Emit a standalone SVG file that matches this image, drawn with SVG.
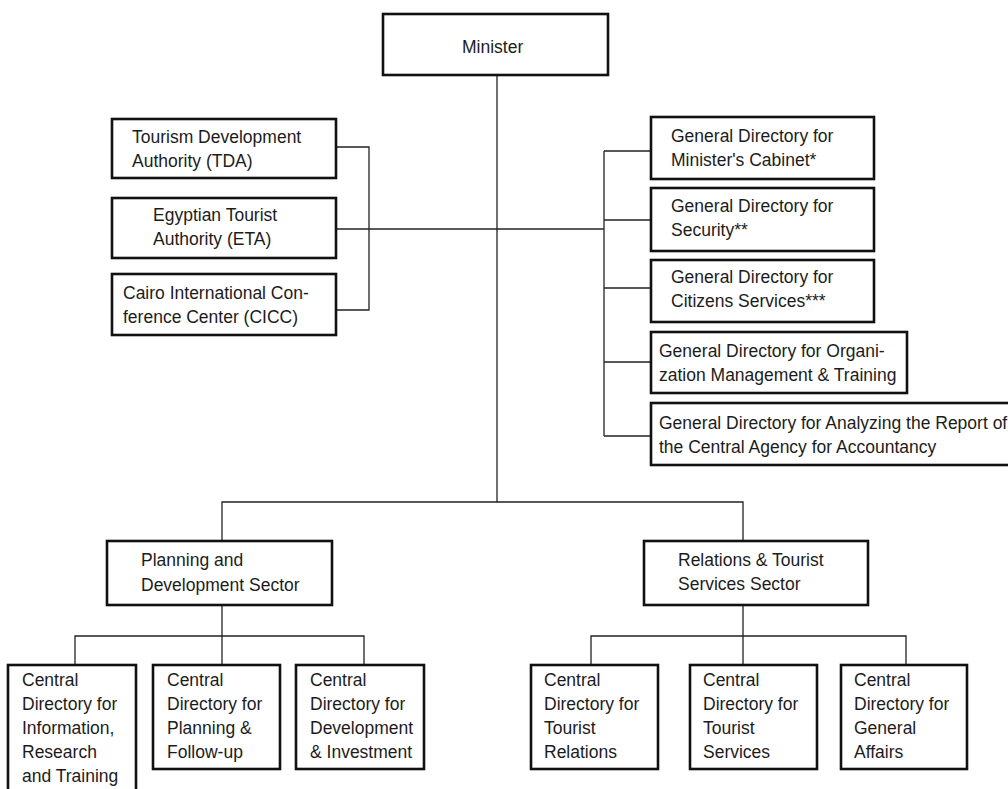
<svg xmlns="http://www.w3.org/2000/svg" width="1008" height="789" viewBox="0 0 1008 789">
  <style>
    .box { fill: #ffffff; stroke: #111111; stroke-width: 2.6; }
    .link { fill: none; stroke: #222222; stroke-width: 1.3; }
    text { font-family: "Liberation Sans", Arial, sans-serif; font-size: 17.5px; fill: #1c1c1c; }
  </style>
  <rect width="1008" height="789" fill="#ffffff"/>

  <!-- connectors -->
  <g id="connectors" class="link">
    <!-- trunk from the Minister -->
    <path d="M497 75 V502"/>
    <!-- affiliated authorities bracket -->
    <path d="M336 147 H369 V310 H336"/>
    <path d="M336 229 H604"/>
    <!-- general directories bracket -->
    <path d="M604 151 V436"/>
    <path d="M604 151 H651 M604 220 H651 M604 288 H651 M604 362 H651 M604 436 H651"/>
    <!-- sectors -->
    <path d="M222 541 V502 H743 V541"/>
    <!-- planning sector children -->
    <path d="M222 605 V665 M75 665 V636 H364 V665"/>
    <!-- relations sector children -->
    <path d="M743 605 V665 M591 665 V636 H906 V665"/>
  </g>

  <g id="minister">
    <rect class="box" x="383" y="14" width="225" height="61"/>
    <text x="462" y="53">Minister</text>
  </g>

  <g id="tda">
    <rect class="box" x="112" y="119" width="224" height="59"/>
    <text x="132" y="143">Tourism Development</text>
    <text x="132" y="167">Authority (TDA)</text>
  </g>
  <g id="eta">
    <rect class="box" x="112" y="198" width="224" height="60"/>
    <text x="153" y="221">Egyptian Tourist</text>
    <text x="153" y="245">Authority (ETA)</text>
  </g>
  <g id="cicc">
    <rect class="box" x="112" y="274" width="224" height="61"/>
    <text x="123" y="299">Cairo International Con-</text>
    <text x="123" y="323">ference Center (CICC)</text>
  </g>

  <g id="gd-cabinet">
    <rect class="box" x="651" y="117" width="223" height="62"/>
    <text x="671" y="142">General Directory for</text>
    <text x="671" y="166">Minister's Cabinet*</text>
  </g>
  <g id="gd-security">
    <rect class="box" x="651" y="188" width="223" height="63"/>
    <text x="671" y="212">General Directory for</text>
    <text x="671" y="236">Security**</text>
  </g>
  <g id="gd-citizens">
    <rect class="box" x="651" y="260" width="223" height="62"/>
    <text x="671" y="283">General Directory for</text>
    <text x="671" y="307">Citizens Services***</text>
  </g>
  <g id="gd-organization">
    <rect class="box" x="651" y="332" width="256" height="61"/>
    <text x="659" y="357">General Directory for Organi-</text>
    <text x="659" y="381">zation Management &amp; Training</text>
  </g>
  <g id="gd-accountancy">
    <rect class="box" x="651" y="403" width="370" height="62"/>
    <text x="659" y="429">General Directory for Analyzing the Report of</text>
    <text x="659" y="453">the Central Agency for Accountancy</text>
  </g>

  <g id="planning-sector">
    <rect class="box" x="107" y="541" width="225" height="64"/>
    <text x="141" y="566">Planning and</text>
    <text x="141" y="591">Development Sector</text>
  </g>
  <g id="relations-sector">
    <rect class="box" x="644" y="541" width="224" height="64"/>
    <text x="678" y="566">Relations &amp; Tourist</text>
    <text x="678" y="590">Services Sector</text>
  </g>

  <g id="cd-information">
    <rect class="box" x="8" y="665" width="128" height="140"/>
    <text x="22" y="686">Central</text>
    <text x="22" y="710">Directory for</text>
    <text x="22" y="734">Information,</text>
    <text x="22" y="758">Research</text>
    <text x="22" y="782">and Training</text>
  </g>
  <g id="cd-planning">
    <rect class="box" x="153" y="665" width="127" height="104"/>
    <text x="167" y="686">Central</text>
    <text x="167" y="710">Directory for</text>
    <text x="167" y="734">Planning &amp;</text>
    <text x="167" y="758">Follow-up</text>
  </g>
  <g id="cd-development">
    <rect class="box" x="296" y="665" width="128" height="104"/>
    <text x="310" y="686">Central</text>
    <text x="310" y="710">Directory for</text>
    <text x="310" y="734">Development</text>
    <text x="310" y="758">&amp; Investment</text>
  </g>

  <g id="cd-relations">
    <rect class="box" x="531" y="665" width="127" height="104"/>
    <text x="544" y="686">Central</text>
    <text x="544" y="710">Directory for</text>
    <text x="544" y="734">Tourist</text>
    <text x="544" y="758">Relations</text>
  </g>
  <g id="cd-services">
    <rect class="box" x="690" y="665" width="127" height="104"/>
    <text x="703" y="686">Central</text>
    <text x="703" y="710">Directory for</text>
    <text x="703" y="734">Tourist</text>
    <text x="703" y="758">Services</text>
  </g>
  <g id="cd-general">
    <rect class="box" x="841" y="665" width="126" height="104"/>
    <text x="854" y="686">Central</text>
    <text x="854" y="710">Directory for</text>
    <text x="854" y="734">General</text>
    <text x="854" y="758">Affairs</text>
  </g>
</svg>
